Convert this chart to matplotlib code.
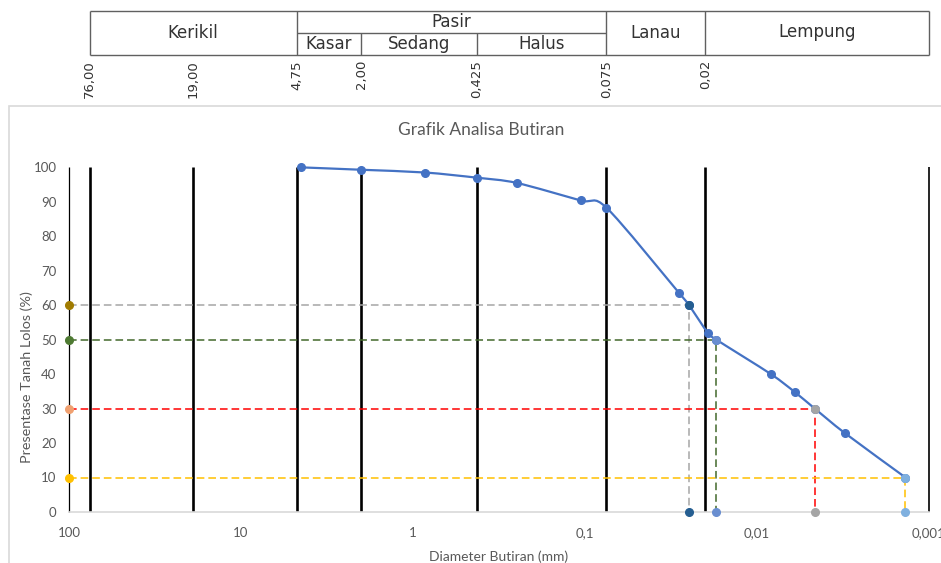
import matplotlib.pyplot as plt
import numpy as np
from matplotlib.path import Path
from matplotlib.patches import PathPatch, Rectangle
from matplotlib.transforms import blended_transform_factory


# hasil analisa saringan + hidrometer
diameter = [4.50, 2.00, 0.85, 0.425, 0.25, 0.106, 0.075, 0.0284, 0.0249,
            0.0193, 0.0173, 0.00832, 0.00604, 0.00462, 0.00309, 0.00137]
lolos = [99.9, 99.2, 98.4, 96.9, 95.4, 90.3, 88.2, 63.5, 60.0,
         51.9, 50.0, 40.0, 34.8, 30.0, 22.9, 10.0]

# D60, D50, D30, D10
d_persen = [60, 50, 30, 10]
d_nilai = [0.0249, 0.0173, 0.00462, 0.00137]
d_garis = ['#A5A5A5', '#43682B', '#FF0000', '#FFC000']
d_kiri = ['#A07B00', '#4E7A32', '#F0A070', '#FFC000']
d_titik = ['#255E91', '#698ED0', '#A5A5A5', '#7FB0DF']

# batas ukuran butir
batas = [76.0, 19.0, 4.75, 2.00, 0.425, 0.075, 0.02]
batas_label = ['76,00', '19,00', '4,75', '2,00', '0,425', '0,075', '0,02']

xticks = [100, 10, 1, 0.1, 0.01, 0.001]
xtick_label = ['100', '10', '1', '0,1', '0,01', '0,001']

W, H = 941, 563


def px_rect(x0, y0, x1, y1):
    return [x0 / W, 1 - y1 / H, (x1 - x0) / W, (y1 - y0) / H]


fig = plt.figure(figsize=(W / 100, H / 100), dpi=100)

# bingkai area grafik
fig.patches.append(Rectangle((9 / W, -0.1), 1.2, 1 - 106 / H + 0.1,
                             transform=fig.transFigure, fill=False,
                             edgecolor='#D9D9D9', lw=1.2))

ax = fig.add_axes(px_rect(69, 167, 929, 512))
ax.set_xscale('log')
ax.set_xlim(100, 0.001)
ax.set_ylim(0, 100)
for s in ['top', 'right', 'left']:
    ax.spines[s].set_visible(False)
ax.spines['bottom'].set_color('#D9D9D9')
ax.spines['bottom'].set_linewidth(1.2)

ax.set_xticks(xticks)
ax.set_xticklabels(xtick_label)
ax.xaxis.set_minor_locator(plt.NullLocator())
ax.set_yticks(range(0, 101, 10))
ax.tick_params(length=0, labelsize=9.5, labelcolor='#595959', pad=9)
ax.tick_params(axis='x', pad=11)
for t in ax.get_xticklabels() + ax.get_yticklabels():
    t.set_family('Lato')

ax.set_xlabel('Diameter Butiran (mm)', family='Lato', fontsize=10,
              color='#595959', labelpad=8)
ax.set_ylabel('Presentase Tanah Lolos (%)', family='Lato', fontsize=10.4,
              color='#595959')
ax.yaxis.set_label_coords(-0.042, 0.39)
fig.text(481 / W, 1 - 130 / H, 'Grafik Analisa Butiran', family='Lato',
         fontsize=12.5, color='#595959', ha='center', va='center')

# garis batas vertikal
ax.vlines(batas, 0, 100, color='black', lw=1.9, zorder=2)
ax.vlines([100], 0, 100, color='black', lw=0.9, zorder=2, clip_on=False)
ax.vlines([0.001], 0, 100, color='black', lw=1.2, zorder=2, clip_on=False)

# garis bantu D60, D50, D30, D10
for p, d, c in zip(d_persen, d_nilai, d_garis):
    ax.plot([100, d, d], [p, p, 0], color=c, lw=1.1, dashes=(5, 2.6),
            zorder=3, clip_on=False)

# kurva gradasi dihaluskan (bezier)
u = np.log10(diameter)
v = np.array(lolos)
verts = [(diameter[0], lolos[0])]
codes = [Path.MOVETO]
n = len(u)
k = 7.0
for i in range(n - 1):
    a = max(i - 1, 0)
    b = min(i + 2, n - 1)
    c1 = (u[i] + (u[i + 1] - u[a]) / k, v[i] + (v[i + 1] - v[a]) / k)
    c2 = (u[i + 1] - (u[b] - u[i]) / k, v[i + 1] - (v[b] - v[i]) / k)
    verts += [(10 ** c1[0], c1[1]), (10 ** c2[0], c2[1]),
              (diameter[i + 1], lolos[i + 1])]
    codes += [Path.CURVE4] * 3
ax.add_patch(PathPatch(Path(verts, codes), fill=False, edgecolor='#4472C4',
                       lw=1.6, zorder=4, clip_on=False))
ax.plot(diameter, lolos, 'o', color='#4472C4', ms=5.5, zorder=5,
        clip_on=False)

for p, d, ck, ct in zip(d_persen, d_nilai, d_kiri, d_titik):
    ax.plot([100], [p], 'o', color=ck, ms=5.5, zorder=6, clip_on=False)
    ax.plot([d], [0], 'o', color=ct, ms=5.5, zorder=6, clip_on=False)
    ax.plot([d], [p], 'o', color=ct, ms=5.5, zorder=6, clip_on=False)

# tabel klasifikasi di atas grafik
axt = fig.add_axes(px_rect(69, 11, 929, 55))
axt.set_xscale('log')
axt.set_xlim(100, 0.001)
axt.set_ylim(0, 2)
axt.axis('off')
lc = '#606060'
axt.hlines([0, 2], 76, 0.001, color=lc, lw=1, clip_on=False)
axt.hlines([1], 4.75, 0.075, color=lc, lw=1, clip_on=False)
axt.vlines([76, 4.75, 0.075, 0.02, 0.001], 0, 2, color=lc, lw=1,
           clip_on=False)
axt.vlines([2.00, 0.425], 0, 1, color=lc, lw=1, clip_on=False)

kolom = [('Kerikil', 76, 4.75, 1.0), ('Pasir', 4.75, 0.075, 1.5),
         ('Kasar', 4.75, 2.00, 0.5), ('Sedang', 2.00, 0.425, 0.5),
         ('Halus', 0.425, 0.075, 0.5), ('Lanau', 0.075, 0.02, 1.0),
         ('Lempung', 0.02, 0.001, 1.05)]
for teks, x0, x1, y in kolom:
    axt.text(np.sqrt(x0 * x1), y, teks, family='DejaVu Sans',
             fontsize=12, color='#333333', ha='center', va='center')

tr = blended_transform_factory(axt.transData, axt.transAxes)
for b, lab in zip(batas, batas_label):
    axt.annotate(lab, xy=(b, 0), xycoords=tr, xytext=(0, -5),
                 textcoords='offset pixels', rotation=90, ha='center',
                 va='top', family='DejaVu Sans', fontsize=9.5,
                 color='#333333')

fig.savefig('out.png', dpi=100)
